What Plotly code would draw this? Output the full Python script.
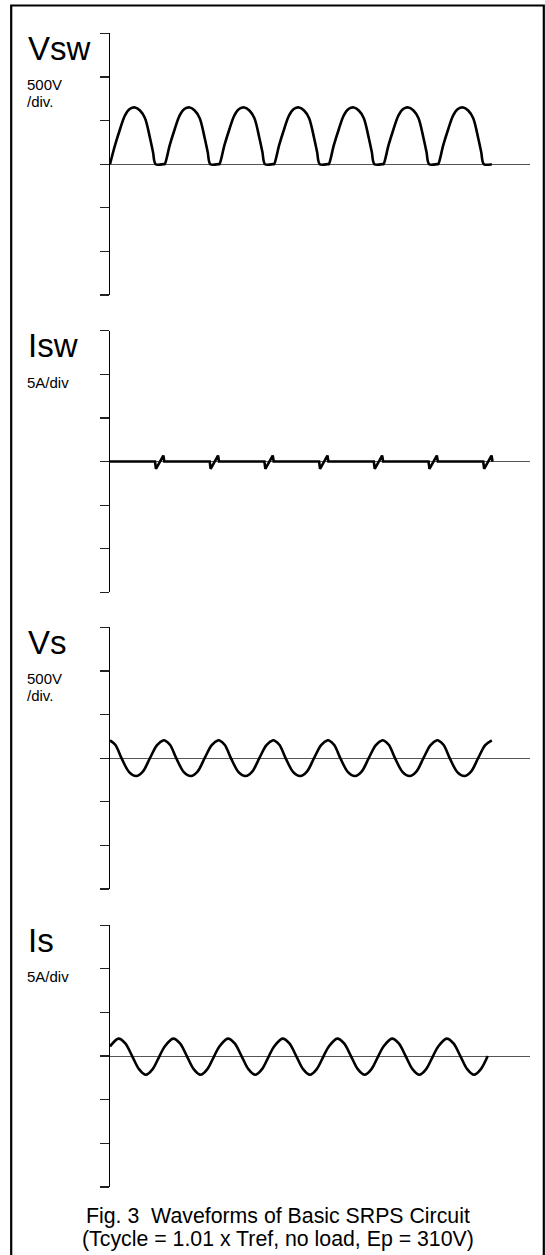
import plotly.graph_objects as go

W, H = 545, 1255

# ---- data (time in switching cycles) ----
cycle_starts = [0, 1, 2, 3, 4, 5, 6]

# Vsw (V): one cycle of the switch voltage
vsw_cycle_t = [0.0, 0.091, 0.183, 0.274, 0.366, 0.457, 0.548, 0.640, 0.731, 0.786, 0.835, 0.98]
vsw_cycle_v = [0, 215, 400, 560, 635, 650, 615, 527, 300, 140, 0, 0]
vsw_end = 6.98

# Isw (A): one cycle of the switch current
isw_cycle_t = [0.0, 0.823, 0.840, 0.975, 0.993]
isw_cycle_v = [0, 0, -0.84, 0.69, 0]
isw_end = 6.993

# Vs (V): one cycle of the secondary voltage
vs_cycle_t = [0.0, 0.10, 0.21, 0.35, 0.48, 0.60, 0.73, 0.86, 0.98]
vs_cycle_v = [203, 150, 0, -160, -205, -155, 0, 150, 205]
vs_end = 6.98

# Is (A): one cycle of the secondary current
is_cycle_t = [0.0, 0.155, 0.28, 0.405, 0.53, 0.655, 0.78, 0.905]
is_cycle_v = [1.1, 2.0, 1.45, 0, -1.5, -2.15, -1.5, 0]
is_end = 6.905

panel_titles = ["Vsw", "Isw", "Vs", "Is"]
panel_scales = [["500V", "/div."], ["5A/div"], ["500V", "/div."], ["5A/div"]]
panel_full = [1500, 15, 1500, 15]     # 3 divisions each side
panel_div = [500, 5, 500, 5]
caption = ["Fig. 3\u00a0 Waveforms of Basic SRPS Circuit",
           "(Tcycle = 1.01 x Tref, no load, Ep = 310V)"]


def tile(ct, cv, end):
    xs, ys = [], []
    for s in cycle_starts:
        for t, v in zip(ct, cv):
            if s + t <= end + 1e-9:
                xs.append(s + t)
                ys.append(v)
    return xs, ys


series = [
    (tile(vsw_cycle_t, vsw_cycle_v, vsw_end), "spline"),
    (tile(isw_cycle_t, isw_cycle_v, isw_end), "linear"),
    (tile(vs_cycle_t, vs_cycle_v, vs_end), "spline"),
    (tile(is_cycle_t, is_cycle_v, is_end), "spline"),
]

# ---- layout geometry (pixels) ----
top_px = [33.3, 330.7, 627.3, 925.2]
span_px = 261.7
x_left_px, x_right_px = 110.0, 530.0
cyc_px = 54.7

fig = go.Figure()
layout = dict(
    width=W, height=H, autosize=False,
    margin=dict(l=0, r=0, t=0, b=0),
    paper_bgcolor="white", plot_bgcolor="rgba(0,0,0,0)",
    showlegend=False,
    font=dict(family="Liberation Sans, Arial, sans-serif", color="black"),
)

annotations = []
for i in range(4):
    sfx = "" if i == 0 else str(i + 1)
    (xs, ys), shape = series[i]
    fig.add_trace(go.Scatter(
        x=xs, y=ys, mode="lines",
        line=dict(color="black", width=2.6, shape=shape, smoothing=0.9 if shape == "spline" else None),
        xaxis="x" + sfx, yaxis="y" + sfx, hoverinfo="skip",
    ))
    T = top_px[i]
    B = T + span_px
    full = panel_full[i]
    layout["xaxis" + sfx] = dict(
        domain=[x_left_px / W, x_right_px / W],
        range=[0, (x_right_px - x_left_px) / cyc_px],
        visible=False, anchor="y" + sfx, fixedrange=True,
    )
    layout["yaxis" + sfx] = dict(
        domain=[1 - B / H, 1 - T / H],
        range=[-full, full],
        tickvals=[k * panel_div[i] for k in range(-3, 4)],
        ticks="outside", ticklen=8.5, tickwidth=1.2, tickcolor="#222",
        showticklabels=False, showgrid=False,
        showline=True, linecolor="black", linewidth=1.3,
        zeroline=True, zerolinecolor="#555", zerolinewidth=1.1,
        anchor="x" + sfx, fixedrange=True,
    )
    # title label
    annotations.append(dict(
        text=panel_titles[i], xref="paper", yref="paper",
        x=25.5 / W, y=1 - (T + 15) / H, xanchor="left", yanchor="middle",
        showarrow=False, font=dict(size=33),
    ))
    for j, s in enumerate(panel_scales[i]):
        annotations.append(dict(
            text=s, xref="paper", yref="paper",
            x=25.5 / W, y=1 - (T + 51.5 + 17.0 * j) / H, xanchor="left", yanchor="middle",
            showarrow=False, font=dict(size=15), borderpad=0,
        ))

for j, c in enumerate(caption):
    annotations.append(dict(
        text=c, xref="paper", yref="paper",
        x=278 / W, y=1 - (1215.7 + 23.3 * j) / H, xanchor="center", yanchor="middle",
        showarrow=False, font=dict(size=21.3),
    ))

layout["annotations"] = annotations
layout["shapes"] = [dict(
    type="rect", xref="paper", yref="paper",
    x0=11.2 / W, x1=543.8 / W, y0=1 - 1265 / H, y1=1 - 5.5 / H,
    line=dict(color="black", width=2.2), fillcolor="rgba(0,0,0,0)", layer="above",
)]
fig.update_layout(**layout)

fig.write_html("out.html", config={"displayModeBar": False, "staticPlot": True},
               post_script="document.body.style.margin='0';document.body.style.overflow='hidden';")
